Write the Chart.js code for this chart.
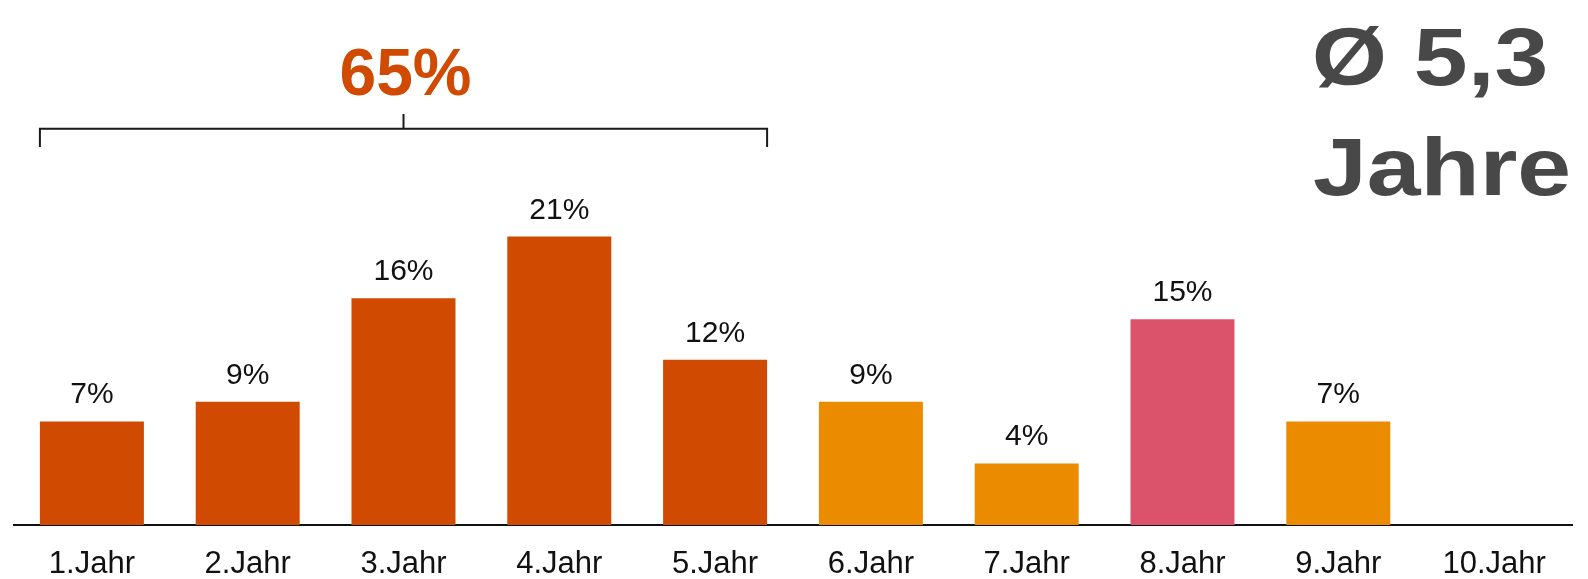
<!DOCTYPE html>
<html lang="de">
<head>
<meta charset="utf-8">
<title>Verteilung nach Jahren</title>
<script src="https://cdn.jsdelivr.net/npm/chart.js@4/dist/chart.umd.min.js"></script>
<style>
    html, body { margin: 0; padding: 0; background: #ffffff; }
    canvas { display: block; }
</style>
</head>
<body>
<canvas id="jahresGrafik" width="1588" height="579"></canvas>
<script>
// Daten
const jahre = ['1.Jahr', '2.Jahr', '3.Jahr', '4.Jahr', '5.Jahr', '6.Jahr', '7.Jahr', '8.Jahr', '9.Jahr', '10.Jahr'];
const anteile = [7.4, 8.8, 16.2, 20.6, 11.8, 8.8, 4.4, 14.7, 7.4, null];
const klammerBis = 5; // die ersten 5 Jahre werden zusammengefasst
const durchschnittText = ['Ø 5,3', 'Jahre'];

const farben = ['#D04A02', '#D04A02', '#D04A02', '#D04A02', '#D04A02', '#EB8C00', '#EB8C00', '#DB536A', '#EB8C00', '#EB8C00'];
const schrift = '"Liberation Sans", Arial, sans-serif';

document.addEventListener('DOMContentLoaded', () => {

    const ctx = document.getElementById('jahresGrafik').getContext('2d');

    // Prozentwerte über den Balken + Klammer + große Texte
    const beschriftung = {
        id: 'beschriftung',
        afterDatasetsDraw(chart) {
            const c = chart.ctx;
            const meta = chart.getDatasetMeta(0);
            const y = chart.scales.y;

            c.save();
            c.font = '30px ' + schrift;
            c.fillStyle = '#111111';
            c.textAlign = 'center';
            c.textBaseline = 'alphabetic';
            meta.data.forEach((balken, i) => {
                if (anteile[i] == null) return;
                c.fillText(Math.round(anteile[i]) + '%', balken.x, balken.y - 18);
            });

            // Klammer über Jahr 1 bis 5
            const erster = meta.data[0];
            const letzter = meta.data[klammerBis - 1];
            const links = erster.x - erster.width / 2;
            const rechts = letzter.x + letzter.width / 2;
            const mitte = (links + rechts) / 2;
            const yLinie = y.getPixelForValue(28.3);
            const yEnde = y.getPixelForValue(27.0);
            const ySpitze = y.getPixelForValue(29.35);

            c.strokeStyle = '#1a1a1a';
            c.lineWidth = 2;
            c.beginPath();
            c.moveTo(links, yEnde);
            c.lineTo(links, yLinie);
            c.lineTo(rechts, yLinie);
            c.lineTo(rechts, yEnde);
            c.moveTo(mitte, yLinie);
            c.lineTo(mitte, ySpitze);
            c.stroke();

            let summe = 0;
            for (let i = 0; i < klammerBis; i++) summe += anteile[i];
            c.font = 'bold 66px ' + schrift;
            c.fillStyle = '#D04A02';
            c.fillText(Math.round(summe) + '%', mitte + 2, y.getPixelForValue(30.7));

            // Durchschnitt oben rechts (etwas breiter gezogen wie im Original)
            c.font = 'bold 82px ' + schrift;
            c.fillStyle = '#484848';
            const zeilen = [[durchschnittText[0], 1430, 85], [durchschnittText[1], 1442, 195]];
            zeilen.forEach(([text, x, yb]) => {
                c.save();
                c.translate(x, yb);
                c.scale(1.18, 1);
                c.fillText(text, 0, 0);
                c.restore();
            });
            c.restore();
        }
    };

    const jahresGrafik = new Chart(ctx, {
        type: 'bar',
        data: {
            labels: jahre,
            datasets: [{
                label: 'Anteil',
                data: anteile,
                backgroundColor: farben,
                borderWidth: 0,
                barPercentage: 0.6675,
                categoryPercentage: 1.0
            }]
        },
        options: {
            responsive: false,
            animation: false,
            layout: {
                padding: { top: 21, left: 14, right: 16, bottom: 0 }
            },
            plugins: {
                legend: { display: false },
                tooltip: { enabled: false },
                title: { display: false }
            },
            scales: {
                x: {
                    grid: { display: false, drawTicks: false },
                    border: { display: true, color: '#111111', width: 2 },
                    ticks: {
                        color: '#111111',
                        padding: 21,
                        font: { family: schrift, size: 31 }
                    },
                    afterFit(scale) {
                        scale.height = 54;
                    }
                },
                y: {
                    display: false,
                    min: 0,
                    max: 36
                }
            }
        },
        plugins: [beschriftung]
    });
});
</script>
</body>
</html>
